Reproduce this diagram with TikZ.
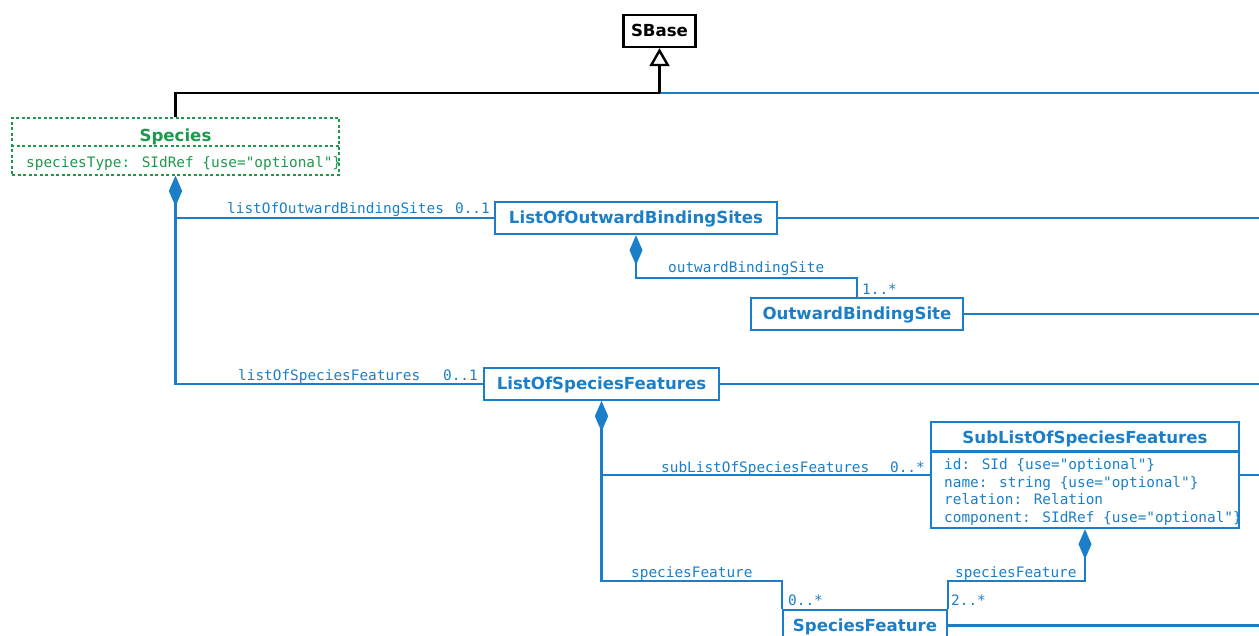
\documentclass[tikz,border=0pt]{standalone}
\usepackage{fontspec}
\usetikzlibrary{arrows.meta}
\newfontfamily\dvsans{DejaVu Sans}
\newfontfamily\dvmono{DejaVu Sans Mono}
\definecolor{ublue}{RGB}{26,127,200}
\definecolor{ugreen}{RGB}{30,152,76}
\begin{document}
\begin{tikzpicture}[x=1pt,y=-1pt,
  titlefont/.style={font=\dvsans\bfseries\fontsize{16.6}{18}\selectfont},
  monofont/.style={font=\dvmono\fontsize{14.4}{17.4}\selectfont},
  clsbox/.style={draw=ublue, text=ublue, line width=2.4pt, titlefont, inner sep=0pt,
    text height=12pt, text depth=0pt, align=center},
  lbl/.style={monofont, text=ublue, inner sep=0pt, anchor=base west},
  lble/.style={lbl, anchor=base east},
  assocline/.style={draw=ublue, line width=2.4pt},
  compline/.style={assocline, {Diamond[length=30pt,width=13pt,fill=ublue]}-},
  genline/.style={draw=black, line width=2.4pt, -{Triangle[open,length=18pt,width=20pt,fill=white]}},
  dotbox/.style={draw=ugreen, line width=2pt, dash pattern=on 3pt off 2.5pt}
]
\useasboundingbox (0,0) rectangle (1259,636);
\clip (0,0) rectangle (1259,636);
\coordinate (R) at (1262,0);

% classes
\node[clsbox, draw=black, text=black, minimum width=72pt, minimum height=32pt] (sbase) at (659.5,31) {SBase};

\node[dotbox, minimum width=327pt, minimum height=57pt, inner sep=0pt] (species) at (175.5,146.5) {};
\node[titlefont, text=ugreen, inner sep=0pt, anchor=base] (sptitle) at (175.5,142) {Species};
\node[monofont, text=ugreen, inner sep=0pt, anchor=base west] (spattr) at (26,168) {speciesType: SIdRef \{use="optional"\}};
\path (species.north west) ++(0,29) coordinate (spdl);
\draw[dotbox] (spdl) -- (spdl -| species.east);

\node[clsbox, minimum width=282pt, minimum height=32pt] (lobs) at (636,218) {ListOfOutwardBindingSites};
\node[clsbox, minimum width=212pt, minimum height=32pt] (obs) at (857,314) {OutwardBindingSite};
\node[clsbox, minimum width=235pt, minimum height=32pt] (losf) at (601.5,384) {ListOfSpeciesFeatures};

\node[draw=ublue, line width=2.4pt, minimum width=308pt, minimum height=106pt, inner sep=0pt] (sub) at (1085,475) {};
\node[titlefont, text=ublue, inner sep=0pt, anchor=base] (subtitle) at (1085,443) {SubListOfSpeciesFeatures};
\path (sub.north west) ++(0,30.5) coordinate (subdl);
\draw[assocline] (subdl) -- (subdl -| sub.east);
\node[lbl] (a1) at (944,469) {id: SId \{use="optional"\}};
\node[lbl] (a2) at (944,487) {name: string \{use="optional"\}};
\node[lbl] (a3) at (944,504) {relation: Relation};
\node[lbl] (a4) at (944,522) {component: SIdRef \{use="optional"\}};

\node[clsbox, minimum width=164pt, minimum height=31pt] (sf) at (865,625.5) {SpeciesFeature};

% generalization
\coordinate (G) at (659.5,93);
\draw[draw=black, line width=2.4pt] (species.north) |- (G);
\draw[assocline] (G) -- (G -| R);
\draw[genline] (G) -- (sbase.south);

% compositions
\draw[compline] (species.south) |- (losf.west);
\draw[compline] (species.south) |- (lobs.west);
\draw[compline] (lobs.south) -- ++(0,43) -| (obs.north);
\draw[compline] (losf.south) -- ++(0,180) -| (sf.north west);
\draw[compline] (losf.south) |- (sub.west);
\draw[compline] (sub.south) -- ++(0,52) -| (sf.north east);

% lines to the right edge
\draw[assocline] (lobs.east) -- (lobs.east -| R);
\draw[assocline] (obs.east) -- (obs.east -| R);
\draw[assocline] (losf.east) -- (losf.east -| R);
\draw[assocline] (sub.east) -- (sub.east -| R);
\draw[assocline] (sf.east) -- (sf.east -| R);

% labels
\node[lbl] (l1) at (227,214) {listOfOutwardBindingSites};
\node[lble] (m1) at (490,214) {0..1};
\node[lbl] (l2) at (668,273) {outwardBindingSite};
\node[lbl] (m2) at (862,295) {1..*};
\node[lbl] (l3) at (238,381) {listOfSpeciesFeatures};
\node[lble] (m3) at (478,381) {0..1};
\node[lbl] (l4) at (661,472) {subListOfSpeciesFeatures};
\node[lble] (m4) at (925,472) {0..*};
\node[lbl] (l5) at (631,577) {speciesFeature};
\node[lbl] (m5) at (788,605) {0..*};
\node[lbl] (l6) at (955,577) {speciesFeature};
\node[lbl] (m6) at (951,605) {2..*};
\end{tikzpicture}
\end{document}
